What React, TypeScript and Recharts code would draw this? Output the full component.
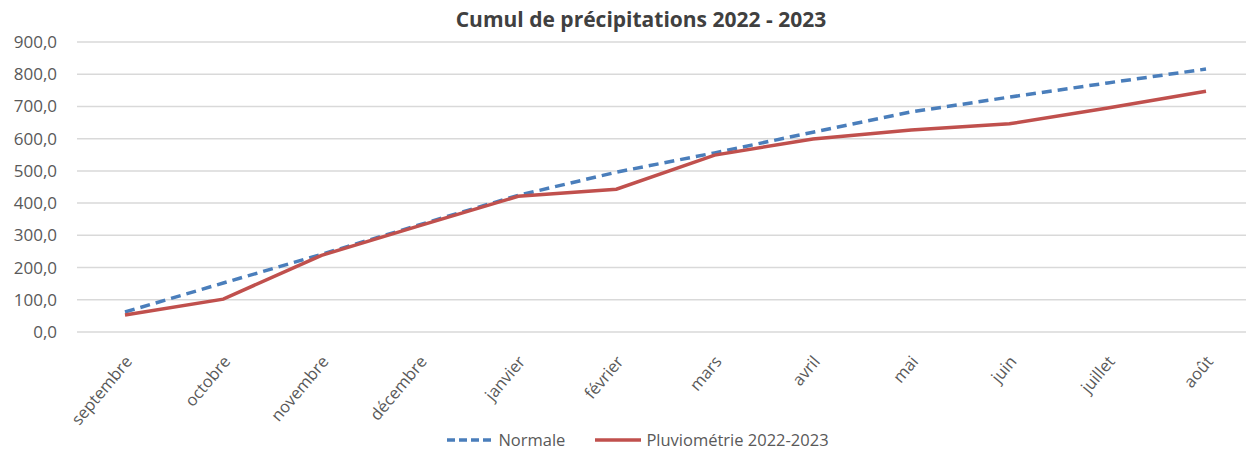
import React from "react"
import { LineChart, Line, XAxis, YAxis, CartesianGrid, Legend } from "recharts"

const months = [
  "septembre", "octobre", "novembre", "décembre", "janvier", "février",
  "mars", "avril", "mai", "juin", "juillet", "août",
]
const normale = [62, 152, 241, 333, 424, 496, 556, 620, 683, 729, 773, 816]
const pluvio = [53, 102, 238, 330, 421, 443, 549, 599, 627, 646, 695, 747]
const yTicks = [0, 100, 200, 300, 400, 500, 600, 700, 800, 900]

const data = months.map((m, i) => ({ month: m, normale: normale[i], pluvio: pluvio[i] }))

const FONT = "'Open Sans', sans-serif"
const BLUE = "#4a7ebb"
const RED = "#c0504d"

const fmt = (v: number) => v.toFixed(1).replace(".", ",")

function MonthTick(props: any) {
  const { x, y, payload } = props
  const px = x + 8
  const py = y + 22
  return (
    <text
      x={px}
      y={py}
      transform={`rotate(-50 ${px} ${py})`}
      textAnchor="end"
      fill="#595959"
      fontSize={16.5}
      fontFamily={FONT}
    >
      {payload.value}
    </text>
  )
}

function LegendBox() {
  const items = [
    { label: "Normale", color: BLUE, dash: "8 4" },
    { label: "Pluviométrie 2022-2023", color: RED, dash: undefined },
  ]
  return (
    <div
      style={{
        display: "flex",
        justifyContent: "center",
        gap: 30,
        paddingTop: 7,
        paddingLeft: 22,
        height: 21,
        lineHeight: "20px",
        fontFamily: FONT,
        fontSize: 16.5,
        color: "#595959",
      }}
    >
      {items.map((it) => (
        <div key={it.label} style={{ display: "flex", alignItems: "center" }}>
          <svg width={46} height={10} style={{ marginRight: 5 }}>
            <line x1={0} y1={5} x2={46} y2={5} stroke={it.color} strokeWidth={3.5} strokeDasharray={it.dash} />
          </svg>
          <span>{it.label}</span>
        </div>
      ))}
    </div>
  )
}

export default function App() {
  return (
    <div style={{ position: "absolute", left: 0, top: 0, width: 1246, height: 450, overflow: "hidden", background: "#fff" }}>
      <div
        style={{
          position: "absolute",
          top: 5,
          left: 0,
          width: 1282,
          textAlign: "center",
          fontFamily: FONT,
          fontWeight: 700,
          fontSize: 21,
          color: "#404040",
        }}
      >
        Cumul de précipitations 2022 - 2023
      </div>
      <LineChart width={1262} height={450} data={data} margin={{ top: 42, right: 8, left: 0, bottom: 0 }}>
        <CartesianGrid vertical={false} stroke="#d9d9d9" strokeWidth={1.5} />
        <XAxis
          dataKey="month"
          axisLine={false}
          tickLine={false}
          interval={0}
          height={90}
          padding={{ left: 48, right: 48 }}
          tick={<MonthTick />}
        />
        <YAxis
          domain={[0, 900]}
          ticks={yTicks}
          width={77}
          axisLine={false}
          tickLine={false}
          tickSize={0}
          tickMargin={20}
          tickFormatter={fmt}
          tick={{ fill: "#595959", fontSize: 17, fontFamily: FONT }}
        />
        <Legend verticalAlign="bottom" height={28} content={<LegendBox />} />
        <Line
          type="linear"
          dataKey="normale"
          name="Normale"
          stroke={BLUE}
          strokeWidth={3.5}
          strokeDasharray="10 6"
          dot={false}
          isAnimationActive={false}
        />
        <Line
          type="linear"
          dataKey="pluvio"
          name="Pluviométrie 2022-2023"
          stroke={RED}
          strokeWidth={3.5}
          dot={false}
          isAnimationActive={false}
        />
      </LineChart>
    </div>
  )
}
